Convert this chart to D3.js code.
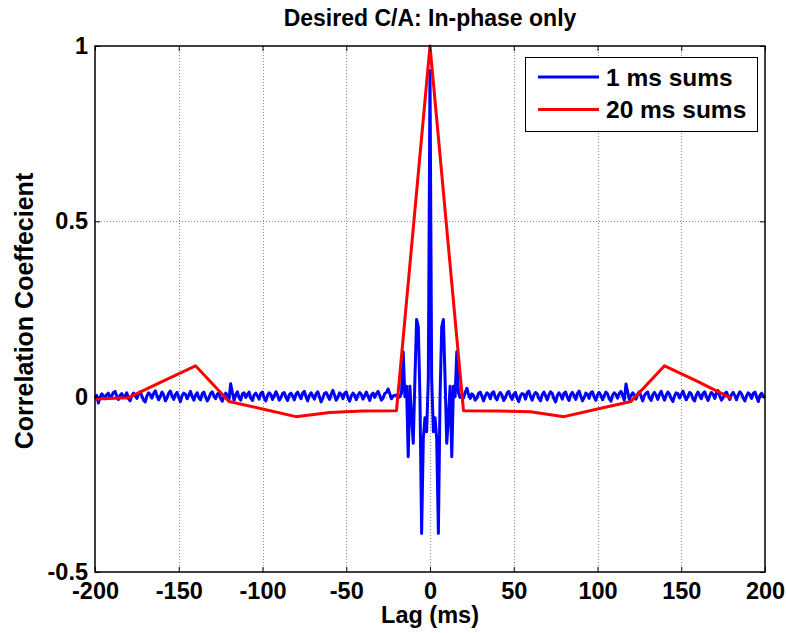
<!DOCTYPE html>
<html>
<head>
<meta charset="utf-8">
<script src="https://cdn.jsdelivr.net/npm/d3@7"></script>
<style>
  body { margin: 0; background: #fff; }
  svg { display: block; font-family: 'Liberation Sans', Arial, sans-serif; font-weight: bold; }
</style>
</head>
<body>
<svg width="786" height="633"></svg>
<script>
// tick values
var xTicks = [-200, -150, -100, -50, 0, 50, 100, 150, 200]
var yTicks = [-0.5, 0, 0.5, 1]
var yTickLabels = ['-0.5', '0', '0.5', '1']

// 1 ms sums, one value per ms from -200 to 200
var blueLags = d3.range(-200, 201)
var blueValues = [
  -0.005, 0.004, -0.018, -0.002, 0.008, 0.003, -0.006, 0.006, 0.010, -0.004, 0.002, 0.012, 0.015, 0.001, -0.008, 0.004, 0.009, -0.003, 0.002, 0.011,
  -0.006, -0.012, 0.003, 0.010, 0.004, -0.005, 0.008, 0.014, 0.002, -0.010, -0.015, 0.002, 0.011, 0.006, -0.004, 0.009, 0.017, 0.003, -0.009, 0.001,
  0.013, 0.005, -0.012, -0.004, 0.010, 0.016, 0.002, -0.008, 0.006, 0.012, -0.002, -0.014, 0.003, 0.010, 0.007, -0.006, 0.004, 0.015, 0.001, -0.010,
  0.004, 0.011, -0.003, -0.009, 0.008, 0.013, 0.000, -0.012, -0.004, 0.009, 0.014, 0.002, -0.006, 0.007, 0.012, -0.005, -0.013, 0.001, 0.010, 0.004,
  -0.008, 0.037, 0.012, -0.010, 0.005, 0.014, -0.003, -0.010, 0.008, 0.011, -0.002, 0.006, 0.013, -0.004, -0.011, 0.005, 0.010, 0.002, -0.007, 0.009,
  0.013, -0.004, -0.012, 0.003, 0.011, 0.006, -0.008, 0.002, 0.014, 0.004, -0.010, -0.003, 0.009, 0.012, -0.002, -0.011, 0.006, 0.010, 0.001, -0.009,
  0.007, 0.013, 0.003, -0.006, 0.010, 0.015, -0.001, -0.012, 0.004, 0.011, 0.002, -0.007, 0.008, 0.014, 0.000, -0.015, -0.004, 0.009, 0.012, 0.003,
  -0.008, 0.006, 0.018, 0.004, -0.010, -0.002, 0.011, 0.007, -0.006, 0.009, 0.014, -0.003, -0.013, 0.002, 0.010, 0.005, -0.009, 0.004, 0.012, 0.006,
  -0.007, 0.003, 0.013, 0.001, -0.011, 0.005, 0.010, -0.002, 0.008, 0.015, 0.003, -0.010, -0.004, 0.009, 0.012, 0.022, 0.008, -0.006, 0.002, 0.004,
  0.004, -0.003, 0.000, 0.010, 0.128, 0.000, 0.030, -0.171, 0.030, -0.060, -0.133, 0.050, 0.220, 0.200, 0.000, -0.390, -0.120, -0.060, -0.100, 0.050,
  0.930,
  0.050, -0.100, -0.060, -0.120, -0.390, 0.000, 0.200, 0.220, 0.050, -0.133, -0.060, 0.030, -0.171, 0.030, 0.000, 0.128, 0.010, -0.002, 0.006, -0.004,
  0.012, 0.024, 0.006, -0.005, 0.008, 0.003, -0.010, -0.004, 0.009, 0.013, 0.001, -0.012, 0.002, 0.011, 0.006, -0.006, 0.010, 0.014, -0.002, -0.009,
  0.005, 0.012, 0.004, -0.011, -0.003, 0.010, 0.015, 0.002, -0.008, 0.007, 0.012, -0.004, -0.014, 0.003, 0.009, 0.006, -0.007, 0.011, 0.016, 0.001,
  -0.010, 0.004, 0.012, 0.008, -0.005, -0.012, 0.006, 0.013, 0.002, -0.009, 0.005, 0.014, 0.009, -0.006, -0.015, 0.003, 0.011, 0.004, -0.007, 0.010,
  0.013, -0.002, -0.011, 0.006, 0.012, 0.003, -0.008, 0.009, 0.016, 0.002, -0.012, -0.003, 0.010, 0.007, -0.005, 0.011, 0.014, -0.001, -0.010, 0.005,
  0.012, 0.004, -0.009, 0.002, 0.013, 0.008, -0.006, -0.013, 0.004, 0.011, 0.006, -0.004, 0.009, 0.015, 0.003, -0.010, 0.036, 0.014, -0.008, 0.002,
  0.011, 0.005, -0.007, 0.008, 0.014, 0.001, -0.012, 0.003, 0.010, 0.013, -0.003, -0.011, 0.006, 0.012, 0.004, -0.008, 0.007, 0.015, 0.002, -0.010,
  0.004, 0.013, 0.007, -0.006, -0.014, 0.002, 0.011, 0.009, -0.004, 0.006, 0.016, 0.003, -0.009, 0.001, 0.012, 0.008, -0.007, -0.012, 0.005, 0.013,
  0.004, -0.006, 0.009, 0.014, 0.000, -0.011, 0.003, 0.012, 0.007, -0.005, 0.010, 0.017, 0.002, -0.010, -0.003, 0.009, 0.013, 0.001, -0.008, 0.006,
  0.012, 0.003, -0.009, 0.005, 0.014, 0.008, -0.004, -0.012, 0.002, 0.011, 0.006, -0.005, 0.009, 0.013, 0.000, -0.014, 0.004, 0.010, 0.002, -0.004
]

// 20 ms sums
var redLags = [-200, -180, -160, -140, -120, -100, -80, -60, -40, -20, 0, 20, 40, 60, 80, 100, 120, 140, 160, 180]
var redValues = [-0.007, -0.003, 0.043, 0.088, -0.014, -0.035, -0.057, -0.045, -0.041, -0.040, 1.0, -0.040, -0.041, -0.043, -0.057, -0.035, -0.014, 0.088, 0.043, -0.005]

var seriesNames = ['1 ms sums', '20 ms sums']
var seriesColors = ['#0000ff', '#ff0000']

;(function (d3) {
  var svg = d3.select('svg')

  var left = 95
  var right = 765
  var top = 46
  var bottom = 572

  var x = d3.scaleLinear().domain([-200, 200]).range([left, right])
  var y = d3.scaleLinear().domain([-0.5, 1]).range([bottom, top])

  // grid
  var grid = svg.append('g')
    .style('stroke', '#8c8c8c')
    .style('stroke-width', 1)
    .style('stroke-dasharray', '1,2')

  grid.selectAll('.gx')
    .data(xTicks.slice(1, -1))
    .enter().append('line')
    .attr('x1', d => Math.round(x(d)) + 0.5)
    .attr('x2', d => Math.round(x(d)) + 0.5)
    .attr('y1', top)
    .attr('y2', bottom)

  grid.selectAll('.gy')
    .data(yTicks.slice(1, -1))
    .enter().append('line')
    .attr('x1', left)
    .attr('x2', right)
    .attr('y1', d => Math.round(y(d)) + 0.5)
    .attr('y2', d => Math.round(y(d)) + 0.5)

  // data
  var ln = d3.line()
    .x(d => x(d[0]))
    .y(d => y(d[1]))

  var blue = blueLags.map((l, i) => [l, blueValues[i]])
  var red = redLags.map((l, i) => [l, redValues[i]])

  svg.selectAll('.series')
    .data([blue, red])
    .enter().append('path')
    .attr('d', ln)
    .style('fill', 'none')
    .style('stroke', (d, i) => seriesColors[i])
    .style('stroke-width', 3)
    .style('stroke-linejoin', 'round')

  // axes
  var fs = '23.5px'

  var gx = svg.append('g')
    .attr('transform', `translate(0,${bottom})`)
    .call(d3.axisBottom(x).tickValues(xTicks).tickFormat(d => String(d)).tickSizeInner(-5).tickSizeOuter(0).tickPadding(10))

  var gy = svg.append('g')
    .attr('transform', `translate(${left},0)`)
    .call(d3.axisLeft(y).tickValues(yTicks).tickFormat((d, i) => yTickLabels[i]).tickSizeInner(-5).tickSizeOuter(0).tickPadding(7))

  svg.append('g')
    .attr('transform', `translate(0,${top})`)
    .call(d3.axisTop(x).tickValues(xTicks).tickFormat('').tickSizeInner(-5).tickSizeOuter(0))

  svg.append('g')
    .attr('transform', `translate(${right},0)`)
    .call(d3.axisRight(y).tickValues(yTicks).tickFormat('').tickSizeInner(-5).tickSizeOuter(0))

  gx.attr('font-family', null).attr('font-size', null)
  gy.attr('font-family', null).attr('font-size', null)
  gx.selectAll('text').style('font-size', fs).style('fill', '#000')
  gy.selectAll('text').style('font-size', fs).style('fill', '#000')

  svg.selectAll('.domain').remove()
  svg.selectAll('.tick line').style('stroke', '#000')

  svg.append('rect')
    .attr('x', left)
    .attr('y', top)
    .attr('width', right - left)
    .attr('height', bottom - top)
    .style('fill', 'none')
    .style('stroke', '#000')
    .style('stroke-width', 1.5)

  // titles
  svg.append('text')
    .attr('x', (left + right) / 2)
    .attr('y', 26)
    .style('text-anchor', 'middle')
    .style('font-size', '23px')
    .text('Desired C/A: In-phase only')

  svg.append('text')
    .attr('x', (left + right) / 2)
    .attr('y', 623)
    .style('text-anchor', 'middle')
    .style('font-size', '23.5px')
    .text('Lag (ms)')

  svg.append('text')
    .attr('transform', `translate(33,${(top + bottom) / 2 + 2}) rotate(-90)`)
    .style('text-anchor', 'middle')
    .style('font-size', '25px')
    .text('Correlation Coeffecient')

  // legend
  var lg = svg.append('g')
  lg.append('rect')
    .attr('x', 525.5)
    .attr('y', 57.5)
    .attr('width', 232)
    .attr('height', 74)
    .style('fill', '#fff')
    .style('stroke', '#000')
    .style('stroke-width', 1)

  var items = lg.selectAll('.item')
    .data(seriesNames)
    .enter().append('g')
    .attr('transform', (d, i) => `translate(0,${77 + i * 32.5})`)

  items.append('line')
    .attr('x1', 538)
    .attr('x2', 599)
    .style('stroke', (d, i) => seriesColors[i])
    .style('stroke-width', 3)

  items.append('text')
    .attr('x', 606)
    .attr('y', 8.5)
    .style('font-size', '24.5px')
    .text(d => d)
})(window.d3)
</script>
</body>
</html>
